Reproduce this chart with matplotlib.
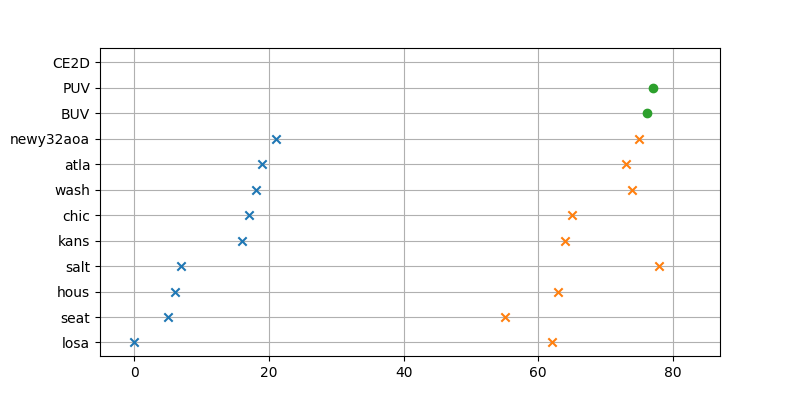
import matplotlib
matplotlib.use("Agg")
import matplotlib.pyplot as plt

categories = ["losa", "seat", "hous", "salt", "kans", "chic", "wash", "atla",
              "newy32aoa", "BUV", "PUV", "CE2D"]
blue_cats = ["losa", "seat", "hous", "salt", "kans", "chic", "wash", "atla", "newy32aoa"]
blue_vals = [0, 5, 6, 7, 16, 17, 18, 19, 21]
orange_cats = ["losa", "seat", "hous", "salt", "kans", "chic", "wash", "atla", "newy32aoa"]
orange_vals = [62, 55, 63, 78, 64, 65, 74, 73, 75]
green_cats = ["BUV", "PUV"]
green_vals = [76.2, 77]

fig, ax = plt.subplots(figsize=(8, 4), dpi=100)
pos = {c: i for i, c in enumerate(categories)}
ax.scatter(blue_vals, [pos[c] for c in blue_cats], marker="x", color="C0", zorder=3)
ax.scatter(orange_vals, [pos[c] for c in orange_cats], marker="x", color="C1", zorder=3)
ax.scatter(green_vals, [pos[c] for c in green_cats], marker="o", color="C2", zorder=3)
ax.set_yticks(range(len(categories)))
ax.set_yticklabels(categories)
ax.set_ylim(-0.53, len(categories) - 0.44)
ax.set_xlim(-5.1, 87)
ax.grid(True)
ax.set_axisbelow(True)
fig.savefig("out.png")
